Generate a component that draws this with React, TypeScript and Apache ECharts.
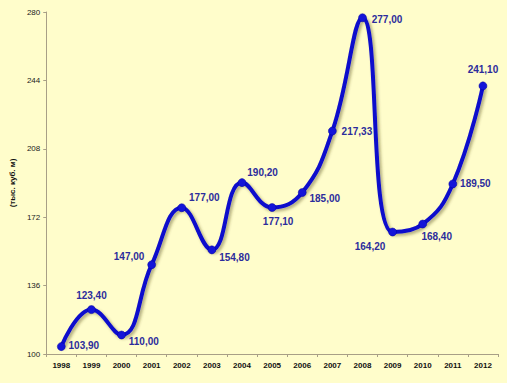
import React, { useEffect, useRef } from "react";
import * as echarts from "echarts";

const years = ["1998", "1999", "2000", "2001", "2002", "2003", "2004", "2005", "2006", "2007", "2008", "2009", "2010", "2011", "2012"];
const volumes = [103.9, 123.4, 110.0, 147.0, 177.0, 154.8, 190.2, 177.1, 185.0, 217.33, 277.0, 164.2, 168.4, 189.5, 241.1];
const labelPositions = ["right", "top", "right", "left", "right", "right", "right", "bottom", "right", "right", "right", "left", "bottom", "right", "top"];
const labelOffsets: number[][] = [[-2, -1], [0, 0], [-2, 6], [2, -8], [-2, -10], [-2, 8], [-4, -10], [6, 0], [-2, 6], [0, 0], [0, 2], [2, 14], [14, -2], [-2, 0], [0, -2]];
const yTitle = "(тыс. куб. м)";

export default function App() {
  const ref = useRef<HTMLDivElement>(null);
  useEffect(() => {
    if (!ref.current) return;
    const chart = echarts.init(ref.current, null, { renderer: "svg" });
    chart.setOption({
      animation: false,
      backgroundColor: "#FFFDCB",
      grid: { left: 39, right: 9, top: 12, bottom: 29 },
      xAxis: {
        type: "category",
        data: years,
        boundaryGap: true,
        axisLine: { lineStyle: { color: "#A89F86", width: 1 } },
        axisTick: { show: true, lineStyle: { color: "#A89F86" }, length: 3 },
        axisLabel: { color: "#111", fontSize: 8, fontWeight: "bold", fontFamily: "Arial, Liberation Sans", margin: 7 },
        splitLine: { show: false },
      },
      yAxis: {
        type: "value",
        min: 100,
        max: 280,
        interval: 36,
        name: yTitle,
        nameLocation: "middle",
        nameGap: 28,
        nameRotate: 90,
        nameTextStyle: { color: "#111", fontSize: 8, fontWeight: "bold", fontFamily: "Arial, Liberation Sans" },
        axisLine: { show: true, lineStyle: { color: "#A89F86", width: 1 } },
        axisTick: { show: true, lineStyle: { color: "#A89F86" }, length: 3 },
        axisLabel: { color: "#222", fontSize: 8, fontFamily: "Arial, Liberation Sans", margin: 6 },
        splitLine: { show: false },
      },
      series: [
        {
          type: "line",
          smooth: 0.45,
          data: volumes.map((v, i) => ({
            value: v,
            label: { position: labelPositions[i], offset: labelOffsets[i] },
          })),
          symbol: "circle",
          symbolSize: 8,
          itemStyle: { color: "#1414D8", borderColor: "#0000A0", borderWidth: 0.5 },
          lineStyle: {
            color: "#0A0ACC",
            width: 4,
            shadowColor: "rgba(80,70,20,0.45)",
            shadowBlur: 3,
            shadowOffsetX: 2,
            shadowOffsetY: 2,
          },
          label: {
            show: true,
            color: "#2C2C9C",
            fontSize: 10,
            fontWeight: "bold",
            fontFamily: "Arial, Liberation Sans",
            distance: 5,
            formatter: (p: any) => Number(p.value).toFixed(2).replace(".", ","),
          },
        },
      ],
    });
    return () => chart.dispose();
  }, []);
  return <div ref={ref} style={{ width: 507, height: 383, position: "absolute", left: 0, top: 0 }} />;
}
